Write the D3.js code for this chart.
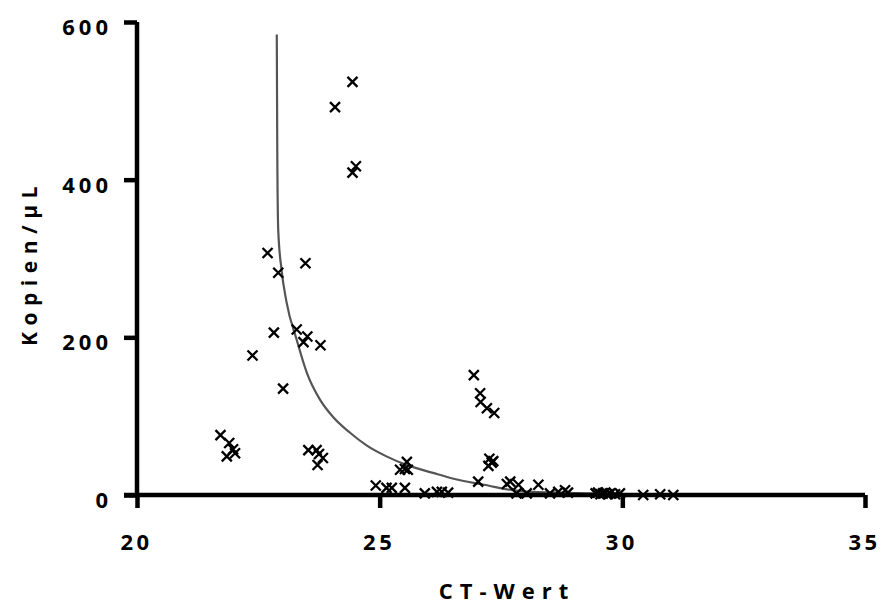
<!DOCTYPE html>
<html>
<head>
<meta charset="utf-8">
<script src="https://cdn.jsdelivr.net/npm/d3@7"></script>
<style>
  body { margin: 0; background: #fff; }
  text { font-family: "Open Sans", sans-serif; font-weight: bold; fill: #000; }
</style>
</head>
<body>
<svg id="chart" width="881" height="605"></svg>
<script>
// measured samples: CT value vs copies per µL
var ctValues = [
  24.44, 24.08, 24.51, 24.44,
  22.69, 22.91, 23.47, 22.82, 23.29, 23.51, 23.43, 23.78, 22.38, 23.01,
  21.72, 21.90, 21.98, 21.85, 22.02,
  23.53, 23.70, 23.75, 23.83, 23.72,
  24.92, 25.14, 25.25, 25.52, 25.42, 25.52, 25.58, 25.56, 25.93, 26.18, 26.28, 26.41,
  26.94, 27.07, 27.08, 27.21, 27.36, 27.26, 27.31, 27.24, 27.34, 27.03,
  27.62, 27.69, 27.86, 27.82, 28.03, 28.27, 28.51, 28.68, 28.82, 28.88,
  29.45, 29.50, 29.55, 29.60, 29.65, 29.70, 29.75, 29.85, 29.95,
  30.43, 30.78, 31.05
];
var copies = [
  524, 492, 417, 409,
  307, 282, 294, 206, 210, 201, 194, 190, 177, 135,
  76, 66, 58, 49, 53,
  57, 57, 52, 47, 38,
  12, 9, 9, 9, 32, 33, 32, 42, 2, 4, 4, 3,
  152, 129, 118, 110, 104, 46, 41, 37, 43, 17,
  14, 17, 13, 2, 2, 13, 2, 4, 6, 3,
  2, 3, 1, 2, 3, 1, 2, 1, 2,
  0, 1, 0
];

// fitted curve
var fitCt     = [22.88, 22.89, 22.91, 22.98, 23.08, 23.29, 23.50, 23.77, 24.04, 24.39, 24.73, 25.14, 25.56, 26.10, 26.50, 27.15, 27.89, 29.0, 30.0, 32.0, 34.9];
var fitCopies = [584,   440,   336,   285,   245,   197,   155,   121,   99,    79,    63,    49,    38,    28,    21,    13,    5,     2.5,  1.2,  0.4,  0];

var xTicks = [20, 25, 30, 35];
var yTicks = [0, 200, 400, 600];

var svg = d3.select('#chart');
var x = d3.scaleLinear().domain([20, 35]).range([137, 865]);
var y = d3.scaleLinear().domain([0, 600]).range([495, 22]);

// fit line
var line = d3.line()
  .x(function(d) { return x(d[0]); })
  .y(function(d) { return y(d[1]); })
  .curve(d3.curveMonotoneX);
svg.append('path')
  .datum(d3.zip(fitCt, fitCopies))
  .attr('d', line)
  .attr('fill', 'none')
  .attr('stroke', '#555')
  .attr('stroke-width', 2.2);

// axes
var xAxis = svg.append('g')
  .attr('transform', 'translate(0,495)')
  .call(d3.axisBottom(x).tickValues(xTicks).tickSize(13).tickPadding(26));
var yAxis = svg.append('g')
  .attr('transform', 'translate(137,0)')
  .call(d3.axisLeft(y).tickValues(yTicks).tickSize(13).tickPadding(12));

[xAxis, yAxis].forEach(function(a) {
  a.select('.domain').attr('stroke', '#000').attr('stroke-width', 4.5);
  a.selectAll('.tick line').attr('stroke', '#000').attr('stroke-width', 4.5);
  a.selectAll('.tick text').style('font-size', '22px');
});
xAxis.selectAll('.tick text').attr('dx', '-1px').style('letter-spacing', '3.5px');
yAxis.selectAll('.tick text').attr('dy', '0.57em').style('letter-spacing', '4px');
xAxis.select('.domain').attr('d', 'M124,0H865');
yAxis.select('.domain').attr('d', 'M0,' + y(600) + 'V' + (y(0) + 2));

// points as crosses
var r = 5;
svg.append('g').selectAll('path')
  .data(d3.zip(ctValues, copies))
  .join('path')
  .attr('d', function(d) {
    var cx = x(d[0]), cy = y(d[1]);
    return 'M' + (cx - r) + ',' + (cy - r) + 'L' + (cx + r) + ',' + (cy + r) +
      'M' + (cx - r) + ',' + (cy + r) + 'L' + (cx + r) + ',' + (cy - r);
  })
  .attr('stroke', '#000')
  .attr('stroke-width', 2.3)
  .attr('fill', 'none');

// titles
svg.append('text')
  .attr('x', 507)
  .attr('y', 599)
  .attr('text-anchor', 'middle')
  .style('font-size', '22px')
  .style('letter-spacing', '7px')
  .text('CT-Wert');
svg.append('text')
  .attr('transform', 'translate(37,263) rotate(-90)')
  .attr('text-anchor', 'middle')
  .style('font-size', '21px')
  .style('letter-spacing', '6.5px')
  .text('Kopien/µL');
</script>
</body>
</html>
